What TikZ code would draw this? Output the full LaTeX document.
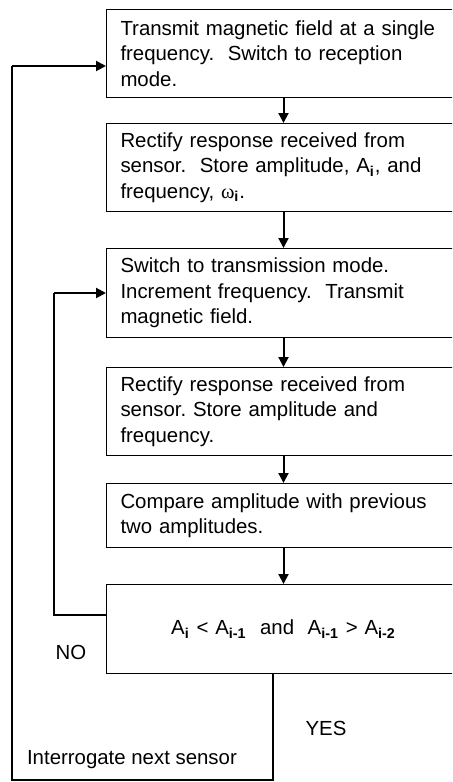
\documentclass[tikz,border=0pt]{standalone}
\usepackage{fontspec}
\setmainfont{Liberation Sans}
\newfontfamily\greekfont{Liberation Serif}
\usetikzlibrary{arrows.meta,calc,positioning}
\newcommand{\sub}[1]{\textsubscript{\textbf{#1}}}
\frenchspacing

\begin{document}
\begin{tikzpicture}[x=0.5pt,y=-0.5pt]
			\tikzstyle{every node}=[font=\fontsize{10.2}{12.75}\selectfont]
			\tikzstyle{stepbox}=[draw, line width=0.5pt, rectangle, anchor=north west, minimum width=177pt, inner xsep=7pt, text width=163pt, align=left]
			\tikzstyle{flow}=[line width=1pt, -{Triangle[length=5pt,width=5pt]}]
			\tikzstyle{wire}=[line width=0.6pt]
			\useasboundingbox (0,0) rectangle (452,782);
			\clip (0,0) rectangle (452,782);
			% flow boxes
			\node [stepbox, minimum height=44pt] (transmit) at (106,9) {Transmit magnetic field at a single\\frequency.\ \ Switch to reception\\mode.};
			\node [stepbox, minimum height=44pt] (rectify) at (106,123) {Rectify response received from\\sensor.\ \ Store amplitude, A\sub{i}, and\\frequency, {\greekfont ω}\sub{i}.};
			\node [stepbox, minimum height=44.5pt] (switch) at (106,248) {Switch to transmission mode.\\Increment frequency.\ \ Transmit\\magnetic field.};
			\node [stepbox, minimum height=44pt] (store) at (106,367) {Rectify response received from\\sensor. Store amplitude and\\frequency.};
			\node [stepbox, minimum height=32pt] (compare) at (106,483) {Compare amplitude with previous\\two amplitudes.};
			\node [stepbox, minimum height=44.5pt, align=center] (test) at (106,584) {A\sub{i} < A\sub{i-1}~~and~~A\sub{i-1} > A\sub{i-2}};
			% labels
			\node (no) at (71,652) {NO};
			\node (yes) at (326,728) {YES};
			\node [anchor=west] (next) at (20,760) {Interrogate next sensor};
			% arrows down
			\draw [flow] (transmit.south) -- (rectify.north);
			\draw [flow] (rectify.south) -- (switch.north);
			\draw [flow] (switch.south) -- (store.north);
			\draw [flow] (store.south) -- (compare.north);
			\draw [flow] (compare.south) -- (test.north);
			% NO loop
			\coordinate (noleft) at (54,615);
			\coordinate (notop) at (54,293);
			\draw [wire] (test.west |- noleft) -- (noleft) -- (notop);
			\draw [flow] (notop) -- (switch.west |- notop);
			% YES loop, next sensor
			\coordinate (yesdown) at (273,673);
			\coordinate (yesfoot) at (273,780);
			\coordinate (leftfoot) at (12,780);
			\coordinate (lefttop) at (12,66);
			\draw [wire] (yesdown) -- (yesfoot) -- (leftfoot) -- (lefttop);
			\draw [flow] (lefttop) -- (transmit.west |- lefttop);
\end{tikzpicture}
\end{document}
